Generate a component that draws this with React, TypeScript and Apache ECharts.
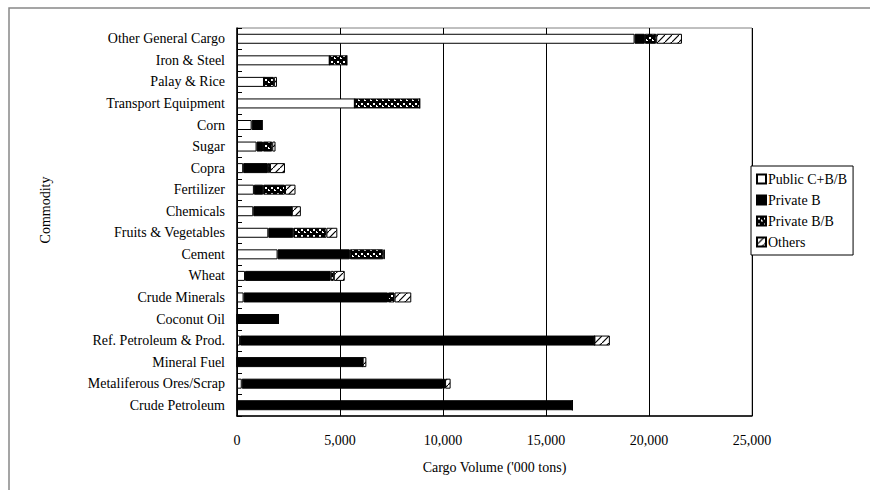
import React, { useEffect, useRef } from "react";
import * as echarts from "echarts";

// Commodities, top to bottom
const categories = [
  "Other General Cargo",
  "Iron & Steel",
  "Palay & Rice",
  "Transport Equipment",
  "Corn",
  "Sugar",
  "Copra",
  "Fertilizer",
  "Chemicals",
  "Fruits & Vegetables",
  "Cement",
  "Wheat",
  "Crude Minerals",
  "Coconut Oil",
  "Ref. Petroleum & Prod.",
  "Mineral Fuel",
  "Metaliferous Ores/Scrap",
  "Crude Petroleum",
];

// Cargo volume ('000 tons), same order as categories
const publicCBB = [19300, 4500, 1310, 5720, 710, 950, 300, 820, 790, 1520, 1970, 390, 320, 0, 150, 0, 230, 0];
const privateB = [500, 0, 0, 0, 500, 310, 1200, 450, 1870, 1210, 3510, 4160, 7010, 2000, 17200, 6100, 9770, 16280];
const privateBB = [550, 830, 480, 3150, 0, 450, 100, 1060, 0, 1610, 1620, 150, 320, 0, 0, 0, 100, 0];
const others = [1250, 0, 150, 0, 0, 160, 730, 510, 440, 530, 80, 530, 810, 0, 750, 180, 270, 0];

const xTicks = [0, 5000, 10000, 15000, 20000, 25000];

const FONT = "Liberation Serif";
const FS = 14;

function makeCheckerPattern(): HTMLCanvasElement {
  const c = document.createElement("canvas");
  c.width = 6;
  c.height = 6;
  const g = c.getContext("2d")!;
  g.fillStyle = "#000";
  g.fillRect(0, 0, 6, 6);
  g.fillStyle = "#fff";
  g.fillRect(1, 1, 2, 2);
  g.fillRect(4, 4, 2, 1);
  g.fillRect(4, 3, 1, 2);
  return c;
}

function makeDiagonalPattern(): HTMLCanvasElement {
  const c = document.createElement("canvas");
  c.width = 7;
  c.height = 7;
  const g = c.getContext("2d")!;
  g.fillStyle = "#fff";
  g.fillRect(0, 0, 7, 7);
  g.strokeStyle = "#000";
  g.lineWidth = 1.2;
  g.beginPath();
  g.moveTo(0, 7);
  g.lineTo(7, 0);
  g.stroke();
  return c;
}

export default function App() {
  const ref = useRef<HTMLDivElement>(null);

  useEffect(() => {
    if (!ref.current) return;
    const chart = echarts.init(ref.current, null, { renderer: "svg" });

    const checker = { image: makeCheckerPattern(), repeat: "repeat" };
    const diagonal = { image: makeDiagonalPattern(), repeat: "repeat" };

    const barBase = {
      type: "bar",
      stack: "total",
      barWidth: 10,
      emphasis: { disabled: true },
    };

    chart.setOption({
      animation: false,
      backgroundColor: "#fff",
      textStyle: { fontFamily: FONT, color: "#000" },
      graphic: [
        {
          type: "rect",
          shape: { x: 9, y: 8, width: 900, height: 600 },
          style: { fill: "none", stroke: "#888", lineWidth: 1.5 },
          silent: true,
        },
        {
          type: "text",
          x: 45,
          y: 210,
          rotation: Math.PI / 2,
          style: {
            text: "Commodity",
            fontFamily: FONT,
            fontSize: FS,
            fill: "#000",
            align: "center",
            verticalAlign: "middle",
          },
          silent: true,
        },
      ],
      grid: {
        left: 237,
        top: 28,
        right: 118,
        bottom: 74,
        show: true,
        borderColor: "#808080",
        borderWidth: 1,
      },
      legend: {
        orient: "vertical",
        left: 751,
        top: 166,
        padding: [6, 6, 6, 5],
        itemGap: 7,
        itemWidth: 9,
        itemHeight: 9,
        icon: "rect",
        backgroundColor: "#fff",
        borderColor: "#000",
        borderWidth: 1,
        textStyle: { fontFamily: FONT, fontSize: FS, color: "#000", padding: [0, 0, 0, -3], lineHeight: 14 },
        data: ["Public C+B/B", "Private B", "Private B/B", "Others"],
      },
      xAxis: {
        type: "value",
        min: 0,
        max: 25000,
        interval: 5000,
        name: "Cargo Volume ('000 tons)",
        nameLocation: "middle",
        nameGap: 44,
        nameTextStyle: { fontFamily: FONT, fontSize: FS, color: "#000" },
        axisLine: { show: true, lineStyle: { color: "#000", width: 1.5 } },
        axisTick: { show: true, inside: true, length: 3, lineStyle: { color: "#000" } },
        axisLabel: {
          fontFamily: FONT,
          fontSize: FS,
          color: "#000",
          margin: 17,
          formatter: (v: number) => (xTicks.includes(v) ? v.toLocaleString("en-US") : ""),
        },
        splitLine: { show: true, lineStyle: { color: "#000", width: 1 } },
      },
      yAxis: {
        type: "category",
        data: categories,
        inverse: true,
        axisLine: { show: true, lineStyle: { color: "#000", width: 1.5 } },
        axisTick: { show: true, inside: true, length: 5, lineStyle: { color: "#000" } },
        axisLabel: { fontFamily: FONT, fontSize: FS, color: "#000", margin: 12 },
        splitLine: { show: false },
      },
      series: [
        {
          ...barBase,
          name: "Public C+B/B",
          data: publicCBB,
          itemStyle: { color: "#fff", borderColor: "#000", borderWidth: 1 },
        },
        {
          ...barBase,
          name: "Private B",
          data: privateB,
          itemStyle: { color: "#000", borderColor: "#000", borderWidth: 1 },
        },
        {
          ...barBase,
          name: "Private B/B",
          data: privateBB,
          itemStyle: { color: checker, borderColor: "#000", borderWidth: 1 },
        },
        {
          ...barBase,
          name: "Others",
          data: others,
          itemStyle: { color: diagonal, borderColor: "#000", borderWidth: 1 },
        },
      ],
    });

    return () => chart.dispose();
  }, []);

  return (
    <div
      ref={ref}
      style={{ position: "absolute", left: 0, top: 0, width: 870, height: 490 }}
    />
  );
}
